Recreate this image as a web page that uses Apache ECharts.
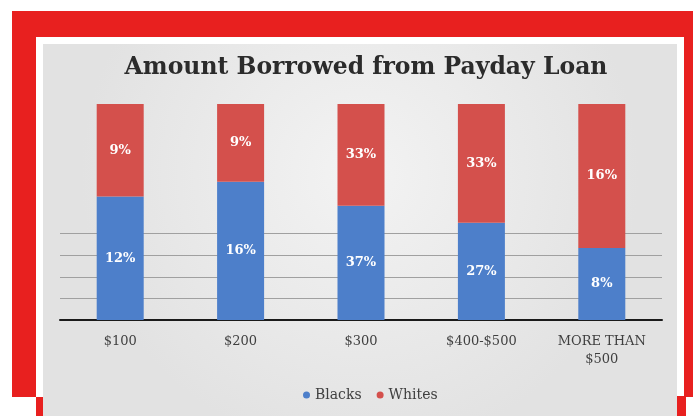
<!DOCTYPE html>
<html>
<head>
<meta charset="utf-8">
<style>
  html, body { margin: 0; padding: 0; background: #ffffff; }
  #chart { width: 696px; height: 416px; }
</style>
<script src="https://cdn.jsdelivr.net/npm/echarts@6/dist/echarts.min.js"></script>
</head>
<body>
<div id="chart"></div>
<script>
// Loan amount brackets and the share of each group (in %)
const categories = ['$100', '$200', '$300', '$400-$500', 'MORE THAN\n$500'];
const blacks = [12, 16, 37, 27, 8];
const whites = [9, 9, 33, 33, 16];
const seriesNames = ['Blacks', 'Whites'];
const titleText = 'Amount Borrowed from Payday Loan';

// Each column is drawn as a 100% stack of the two groups
const totals = blacks.map((b, i) => b + whites[i]);
const blackShare = blacks.map((b, i) => ({ value: b / totals[i] * 100, raw: b }));
const whiteShare = whites.map((w, i) => ({ value: w / totals[i] * 100, raw: w }));

const SERIF = '"DejaVu Serif", "Liberation Serif", serif';
const RED = '#d4504c';
const BLUE = '#4d7fca';

// Only the lower gridlines are visible; the rest fade into the panel
const gridColors = ['#3a3a3a', '#a0a0a0', '#a0a0a0', '#a0a0a0', '#a0a0a0',
  'rgba(0,0,0,0)', 'rgba(0,0,0,0)', 'rgba(0,0,0,0)', 'rgba(0,0,0,0)', 'rgba(0,0,0,0)', 'rgba(0,0,0,0)'];

const chart = echarts.init(document.getElementById('chart'));

const labelStyle = {
  show: true,
  position: 'inside',
  color: '#ffffff',
  fontFamily: SERIF,
  fontWeight: 'bold',
  fontSize: 13,
  formatter: p => p.data.raw + '%'
};

chart.setOption({
  animation: false,
  backgroundColor: '#ffffff',
  graphic: [
    // red frame
    { type: 'rect', z: -10, shape: { x: 12, y: 11, width: 681, height: 386 }, style: { fill: '#e8201f' } },
    { type: 'rect', z: -9, shape: { x: 36, y: 37, width: 648, height: 379 }, style: { fill: '#ffffff' } },
    { type: 'rect', z: -8, shape: { x: 36, y: 397, width: 8, height: 19 }, style: { fill: '#e8201f' } },
    { type: 'rect', z: -8, shape: { x: 677, y: 396, width: 9, height: 20 }, style: { fill: '#e8201f' } },
    // chart panel
    {
      type: 'rect', z: -7, shape: { x: 43, y: 44, width: 634, height: 372 },
      style: {
        fill: new echarts.graphic.RadialGradient(0.5, 0.35, 0.75, [
          { offset: 0, color: '#f3f3f3' },
          { offset: 1, color: '#e2e2e2' }
        ])
      }
    }
  ],
  title: {
    text: titleText,
    left: 361,
    textAlign: 'center',
    top: 51,
    textStyle: { fontFamily: SERIF, fontWeight: 'bold', fontSize: 23.5, color: '#2b2b2b' }
  },
  legend: {
    data: seriesNames,
    bottom: 9,
    left: 298,
    icon: 'circle',
    itemWidth: 7,
    itemHeight: 7,
    itemGap: 15,
    textStyle: { fontFamily: SERIF, fontSize: 14, color: '#404040' }
  },
  grid: { left: 60, right: 34, top: 104, bottom: 96 },
  xAxis: {
    type: 'category',
    data: categories,
    axisLine: { lineStyle: { color: '#1a1a1a', width: 2 } },
    axisTick: { show: false },
    axisLabel: { fontFamily: SERIF, fontSize: 13, color: '#404040', margin: 13, lineHeight: 18, interval: 0 }
  },
  yAxis: {
    type: 'value',
    min: 0,
    max: 100,
    interval: 10,
    axisLabel: { show: false },
    axisLine: { show: false },
    axisTick: { show: false },
    splitLine: { show: true, lineStyle: { color: gridColors, width: 1 } }
  },
  series: [
    {
      name: seriesNames[0], type: 'bar', stack: 'all', barWidth: 47,
      itemStyle: { color: BLUE }, label: labelStyle, data: blackShare
    },
    {
      name: seriesNames[1], type: 'bar', stack: 'all', barWidth: 47,
      itemStyle: { color: RED }, label: labelStyle, data: whiteShare
    }
  ]
});
</script>
</body>
</html>
